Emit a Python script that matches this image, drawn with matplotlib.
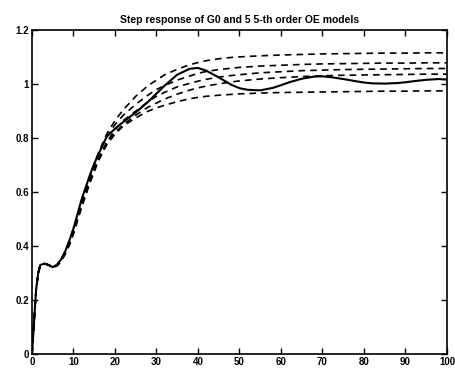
import matplotlib
matplotlib.use("Agg")
import matplotlib.pyplot as plt

# Time grid for the true system (G0) step response
t_g0 = [0, 0.5, 1, 1.5, 2, 3, 4, 5, 6, 7, 8, 9, 10, 11, 12, 13, 14, 15, 16, 18,
        20, 22, 25, 28, 30, 32, 35, 38, 40, 42, 45, 48, 50, 52, 55, 58, 60, 62,
        65, 68, 70, 72, 75, 78, 80, 82, 85, 88, 90, 92, 95, 98, 100]
y_g0 = [0, 0.12, 0.24, 0.30, 0.33, 0.335, 0.33, 0.322, 0.33, 0.35, 0.38, 0.42,
        0.465, 0.52, 0.575, 0.62, 0.665, 0.705, 0.74, 0.805,
        0.835, 0.86, 0.895, 0.935, 0.965, 0.995, 1.035, 1.057, 1.06, 1.05, 1.025,
        0.998, 0.985, 0.979, 0.977, 0.986, 0.996, 1.007, 1.02, 1.028, 1.029,
        1.026, 1.019, 1.011, 1.006, 1.003, 1.002, 1.004, 1.007, 1.011, 1.016,
        1.019, 1.017]

# Time grid for the 5 identified 5-th order OE models
t_oe = [0, 0.5, 1, 1.5, 2, 3, 4, 5, 6, 7, 8, 9, 10, 11, 12, 13, 14, 15, 16, 18,
        20, 22, 25, 28, 30, 32, 35, 38, 40, 42, 45, 48, 50, 55, 60, 65, 70, 75,
        80, 85, 90, 95, 100]
y_oe1 = [0, 0.12, 0.24, 0.30, 0.33, 0.335, 0.33, 0.322, 0.33, 0.35, 0.38, 0.42,
         0.465, 0.515, 0.565, 0.615, 0.66, 0.705, 0.745, 0.815,
         0.865, 0.905, 0.955, 0.995, 1.015, 1.035, 1.055, 1.072, 1.08, 1.087,
         1.094, 1.099, 1.101, 1.105, 1.108, 1.11, 1.112, 1.113, 1.114, 1.115,
         1.115, 1.116, 1.116]
y_oe2 = [0, 0.12, 0.24, 0.30, 0.33, 0.335, 0.33, 0.322, 0.33, 0.35, 0.38, 0.418,
         0.462, 0.512, 0.562, 0.61, 0.655, 0.698, 0.74, 0.805,
         0.85, 0.885, 0.925, 0.96, 0.98, 0.995, 1.015, 1.03, 1.04, 1.047, 1.054,
         1.059, 1.062, 1.067, 1.07, 1.073, 1.075, 1.076, 1.077, 1.078, 1.078,
         1.079, 1.079]
y_oe3 = [0, 0.12, 0.24, 0.30, 0.33, 0.335, 0.33, 0.322, 0.328, 0.346, 0.375,
         0.41, 0.455, 0.505, 0.555, 0.6, 0.645, 0.685, 0.725, 0.785,
         0.83, 0.865, 0.9, 0.935, 0.955, 0.97, 0.99, 1.003, 1.011, 1.018, 1.026,
         1.032, 1.035, 1.042, 1.046, 1.05, 1.052, 1.054, 1.055, 1.056, 1.057,
         1.058, 1.058]
y_oe4 = [0, 0.12, 0.24, 0.30, 0.33, 0.335, 0.33, 0.322, 0.327, 0.344, 0.372,
         0.406, 0.45, 0.5, 0.55, 0.595, 0.64, 0.68, 0.72, 0.78,
         0.82, 0.85, 0.885, 0.915, 0.93, 0.945, 0.963, 0.978, 0.986, 0.993,
         1.001, 1.008, 1.012, 1.019, 1.024, 1.028, 1.031, 1.033, 1.034, 1.035,
         1.036, 1.037, 1.037]
y_oe5 = [0, 0.12, 0.24, 0.30, 0.33, 0.335, 0.33, 0.322, 0.326, 0.342, 0.37,
         0.403, 0.445, 0.495, 0.545, 0.59, 0.635, 0.675, 0.715, 0.775,
         0.815, 0.845, 0.875, 0.9, 0.912, 0.922, 0.935, 0.946, 0.951, 0.955,
         0.959, 0.962, 0.964, 0.967, 0.969, 0.97, 0.971, 0.972, 0.973, 0.974,
         0.974, 0.975, 0.975]
oe_models = [y_oe1, y_oe2, y_oe3, y_oe4, y_oe5]

x_ticks = [0, 10, 20, 30, 40, 50, 60, 70, 80, 90, 100]
y_ticks = [0, 0.2, 0.4, 0.6, 0.8, 1.0, 1.2]
y_tick_labels = ["0", "0.2", "0.4", "0.6", "0.8", "1", "1.2"]
title = "Step response of G0 and 5 5-th order OE models"

plt.rcParams['font.family'] = ['Liberation Sans', 'DejaVu Sans']

fig = plt.figure(figsize=(4.55, 3.68), dpi=100)
ax = fig.add_axes([0.0703, 0.038, 0.912, 0.880])

for y in oe_models:
    ax.plot(t_oe, y, color='black', linewidth=1.2, linestyle=(0, (4, 3)))
ax.plot(t_g0, y_g0, color='black', linewidth=1.5, linestyle='-')

ax.set_xlim(0, 100)
ax.set_ylim(0, 1.2)
ax.set_xticks(x_ticks)
ax.set_xticklabels([str(v) for v in x_ticks])
ax.set_yticks(y_ticks)
ax.set_yticklabels(y_tick_labels)
ax.tick_params(direction='in', length=4, width=1, top=True, right=True,
               labelsize=7, pad=2)
for lbl in ax.get_xticklabels() + ax.get_yticklabels():
    lbl.set_fontweight('bold')
for s in ax.spines.values():
    s.set_linewidth(1.2)

ax.set_title(title, fontsize=7.5, fontweight='bold', pad=5)

fig.savefig("out.png", dpi=100)
